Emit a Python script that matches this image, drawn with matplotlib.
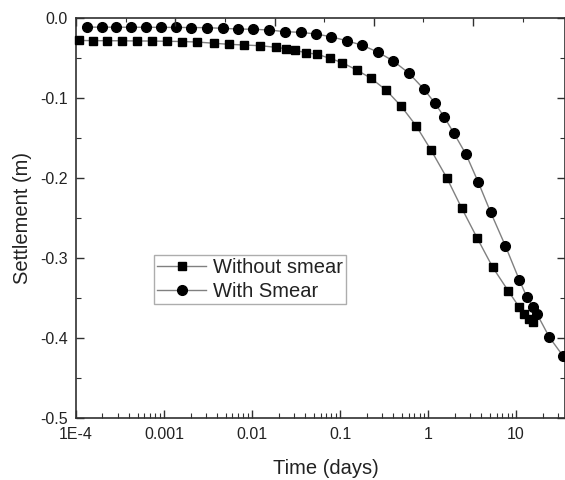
import matplotlib
matplotlib.use("Agg")
import matplotlib.pyplot as plt
from matplotlib.ticker import FixedLocator, MultipleLocator, LogLocator, NullFormatter

plt.rcParams['font.family'] = ['Liberation Sans', 'DejaVu Sans']
plt.rcParams['axes.unicode_minus'] = False

# Without smear (squares)
t_without = [1.09e-4, 1.57e-4, 2.27e-4, 3.36e-4, 4.90e-4, 7.24e-4, 1.07e-3, 1.59e-3,
             2.36e-3, 3.70e-3, 5.52e-3, 8.19e-3, 1.23e-2, 1.86e-2, 2.43e-2, 3.08e-2,
             4.11e-2, 5.52e-2, 7.69e-2, 0.106, 0.155, 0.225, 0.333, 0.493, 0.731,
             1.08, 1.63, 2.42, 3.63, 5.43, 8.18, 10.8, 12.3, 14.1, 15.6]
s_without = [-0.0281, -0.0283, -0.0284, -0.0285, -0.0287, -0.0288, -0.0291, -0.0294,
             -0.0300, -0.0316, -0.0329, -0.0338, -0.0346, -0.0366, -0.0384, -0.0404,
             -0.0434, -0.0454, -0.0504, -0.0559, -0.0650, -0.0754, -0.0900, -0.1100, -0.1346,
             -0.165, -0.1996, -0.2379, -0.2754, -0.3116, -0.3413, -0.361, -0.370, -0.376, -0.380]

# With smear (circles)
t_with = [1.33e-4, 1.96e-4, 2.85e-4, 4.22e-4, 6.19e-4, 9.17e-4, 1.36e-3, 2.01e-3,
          3.08e-3, 4.64e-3, 6.98e-3, 1.035e-2, 1.57e-2, 2.37e-2, 3.57e-2, 5.30e-2,
          7.91e-2, 0.119, 0.179, 0.268, 0.404, 0.608, 0.902, 1.20, 1.52, 1.97, 2.70,
          3.70, 5.15, 7.55, 10.9, 13.3, 15.6, 17.3, 23.9, 34.2]
s_with = [-0.0114, -0.0115, -0.0115, -0.0116, -0.0116, -0.0117, -0.0118, -0.0119,
          -0.0121, -0.0129, -0.0138, -0.0141, -0.0150, -0.0171, -0.0179, -0.0200,
          -0.0234, -0.0284, -0.0341, -0.0425, -0.0538, -0.0691, -0.0891, -0.1066, -0.1234,
          -0.1441, -0.1704, -0.2046, -0.2429, -0.2846, -0.3275, -0.349, -0.361, -0.370,
          -0.399, -0.4225]

x_ticks = [1e-4, 1e-3, 1e-2, 1e-1, 1, 10]
x_tick_labels = ['1E-4', '0.001', '0.01', '0.1', '1', '10']
y_ticks = [-0.5, -0.4, -0.3, -0.2, -0.1, 0.0]
y_tick_labels = ['-0.5', '-0.4', '-0.3', '-0.2', '-0.1', '0.0']

W, H = 565, 480
fig = plt.figure(figsize=(W / 100, H / 100), dpi=100)
rect = [76 / W, 1 - 418 / H, (W - 76) / W, 400 / H]
ax = fig.add_axes(rect)

line_col = '#808080'
ax.plot(t_without, s_without, color=line_col, lw=1.0, marker='s', ms=6.3,
        mfc='black', mec='black', label='Without smear', clip_on=False, zorder=3)
ax.plot(t_with, s_with, color=line_col, lw=1.0, marker='o', ms=7.0,
        mfc='black', mec='black', label='With Smear', clip_on=False, zorder=3)

ax.set_xscale('log')
ax.set_xlim(1e-4, 36)
ax.set_ylim(-0.5, 0.0)

ax.xaxis.set_major_locator(FixedLocator(x_ticks))
ax.set_xticklabels(x_tick_labels)
ax.xaxis.set_minor_locator(LogLocator(base=10, subs=range(2, 10), numticks=20))
ax.xaxis.set_minor_formatter(NullFormatter())
ax.yaxis.set_major_locator(FixedLocator(y_ticks))
ax.set_yticklabels(y_tick_labels)
ax.yaxis.set_minor_locator(MultipleLocator(0.05))

spine_col = '#303030'
for sp in ax.spines.values():
    sp.set_linewidth(1.2)
    sp.set_color(spine_col)

ax.tick_params(which='major', direction='in', length=6, width=1.0, color=spine_col,
               labelsize=11.5, labelcolor='#222222', right=True)
ax.tick_params(which='minor', direction='in', length=3.5, width=0.8, color=spine_col,
               right=True)
ax.tick_params(axis='y', which='major', pad=5.8)
ax.tick_params(axis='x', which='major', pad=6.5)

# independent overlay axes carrying the evenly spaced top ticks
axt = fig.add_axes(rect, facecolor='none', frameon=False)
axt.set_xlim(0, (W - 76) / 99.25)
axt.xaxis.tick_top()
axt.xaxis.set_major_locator(MultipleLocator(1))
axt.xaxis.set_minor_locator(MultipleLocator(0.5))
axt.tick_params(axis='x', which='major', direction='in', length=5.5, width=1.0,
                color=spine_col, labeltop=False, labelbottom=False, bottom=False)
axt.tick_params(axis='x', which='minor', direction='in', length=3.0, width=0.8,
                color=spine_col, bottom=False)
axt.yaxis.set_visible(False)

ax.set_xlabel('Time (days)', fontsize=14.5, color='#222222')
ax.set_ylabel('Settlement (m)', fontsize=14.5, color='#222222')
ax.xaxis.set_label_coords(0.511, -0.102)
ax.yaxis.set_label_coords(-0.089, 0.5)

leg = ax.legend(loc='upper left', bbox_to_anchor=((154 - 76) / 489, (418 - 255) / 400),
                borderaxespad=0, fontsize=14.5, frameon=True, fancybox=False,
                borderpad=0.15, handlelength=2.45, handletextpad=0.35,
                labelspacing=0.25)
leg.get_frame().set_edgecolor('#999999')
leg.get_frame().set_linewidth(1.0)
for txt in leg.get_texts():
    txt.set_color('#222222')

fig.savefig('out.png', dpi=100)
